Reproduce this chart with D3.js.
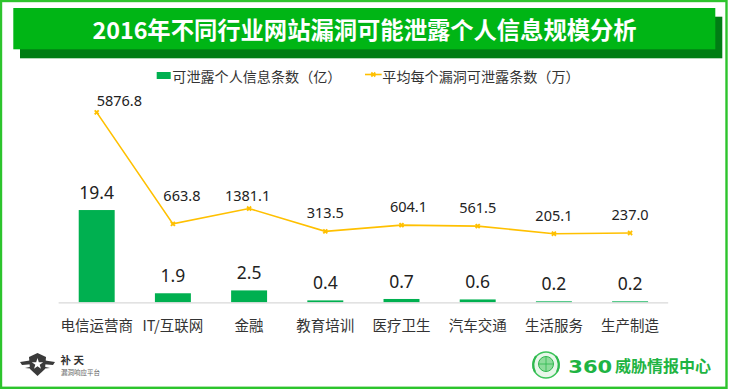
<!DOCTYPE html>
<html>
<head>
<meta charset="utf-8">
<script src="https://cdn.jsdelivr.net/npm/d3@7/dist/d3.min.js"></script>
<style>
  html, body { margin: 0; padding: 0; background: #fff; }
  svg { display: block; }
  text { font-family: "Noto Sans", "Noto Sans CJK SC", sans-serif; }
</style>
</head>
<body>
<svg id="chart" width="729" height="392"></svg>
<script>
// ---- data ----
const categories = ["电信运营商", "IT/互联网", "金融", "教育培训", "医疗卫生", "汽车交通", "生活服务", "生产制造"];
const recordsBillion = [19.4, 1.9, 2.5, 0.4, 0.7, 0.6, 0.2, 0.2];
const avgPerVulnTenThousand = [5876.8, 663.8, 1381.1, 313.5, 604.1, 561.5, 205.1, 237.0];
const seriesNames = ["可泄露个人信息条数（亿）", "平均每个漏洞可泄露条数（万）"];
const titleText = "2016年不同行业网站漏洞可能泄露个人信息规模分析";
// label placement nudges for the line labels (dx, dy from point), as hand-placed in the original
const lineLabelNudge = [[0, -6.5, "start"], [9, -23, "middle"], [-1.5, -7.7, "middle"], [0, -13, "middle"],
                        [7, -13.4, "middle"], [0, -13, "middle"], [0, -13, "middle"], [0, -13, "middle"]];

const svg = d3.select("#chart");

// outer frame
svg.append("rect").attr("x", 1).attr("y", 1).attr("width", 725.5).attr("height", 386.8)
  .attr("fill", "#fff").attr("stroke", "#2dc42d").attr("stroke-width", 2.4);

// title banner with shadow
svg.append("rect").attr("x", 20).attr("y", 16.7).attr("width", 702.3).attr("height", 41.6).attr("fill", "#007d14");
svg.append("rect").attr("x", 13.3).attr("y", 8).attr("width", 702).attr("height", 41.3).attr("fill", "#00b515");
svg.append("text").attr("x", 364.5).attr("y", 29).attr("text-anchor", "middle")
  .attr("dominant-baseline", "central")
  .style("font-family", '"Noto Sans CJK SC", sans-serif')
  .style("font-weight", "bold").style("font-size", "23.3px").attr("fill", "#fff")
  .text(titleText);

// scales
const plotLeft = 58.6, plotRight = 668.2, plotTop = 88.3, plotBottom = 302.3;
const x = d3.scaleBand().domain(categories).range([plotLeft, plotRight]).paddingInner(0.528).paddingOuter(0.264);
const yBar = d3.scaleLinear().domain([0, 45]).range([plotBottom, plotTop]);
const yLine = d3.scaleLinear().domain([-3000, 7000]).range([plotBottom, plotTop]);
const cx = c => x(c) + x.bandwidth() / 2;

const barColor = "#00b050", lineColor = "#ffc000", textColor = "#333";

// bars
svg.append("g").selectAll("rect").data(categories).join("rect")
  .attr("x", c => x(c))
  .attr("y", (c, i) => yBar(recordsBillion[i]))
  .attr("width", x.bandwidth())
  .attr("height", (c, i) => plotBottom - yBar(recordsBillion[i]))
  .attr("fill", barColor);

// x axis (baseline + category labels)
const xAxis = d3.axisBottom(x).tickSize(0).tickPadding(0).tickSizeOuter(0);
const gx = svg.append("g").attr("transform", `translate(0,${plotBottom})`).call(xAxis);
gx.select(".domain").attr("stroke", "#d9d9d9").attr("stroke-width", 1.3)
  .attr("d", `M${plotLeft},0.5H${plotRight}`);
gx.selectAll(".tick text")
  .attr("y", 29).attr("dy", 0)
  .style("font-family", '"Noto Sans CJK SC", sans-serif')
  .style("font-size", "14.5px").attr("fill", textColor);

// bar labels
svg.append("g").selectAll("text").data(categories).join("text")
  .attr("x", c => cx(c))
  .attr("y", (c, i) => yBar(recordsBillion[i]) - 11)
  .attr("text-anchor", "middle")
  .style("font-size", "17.5px").attr("fill", "#222")
  .text((c, i) => recordsBillion[i].toFixed(1));

// line
const line = d3.line().x((d, i) => cx(categories[i])).y(d => yLine(d));
svg.append("path").datum(avgPerVulnTenThousand).attr("d", line)
  .attr("fill", "none").attr("stroke", lineColor).attr("stroke-width", 1.6);

const marker = d3.symbol().type(d3.symbolCross).size(18);
svg.append("g").selectAll("path").data(avgPerVulnTenThousand).join("path")
  .attr("transform", (d, i) => `translate(${cx(categories[i])},${yLine(d)}) rotate(45)`)
  .attr("d", marker).attr("fill", lineColor);

// line labels
svg.append("g").selectAll("text").data(avgPerVulnTenThousand).join("text")
  .attr("x", (d, i) => cx(categories[i]) + lineLabelNudge[i][0])
  .attr("y", (d, i) => yLine(d) + lineLabelNudge[i][1])
  .attr("text-anchor", (d, i) => lineLabelNudge[i][2])
  .style("font-size", "14.5px").attr("fill", "#222")
  .text(d => d.toFixed(1));

// legend
const lg = svg.append("g");
lg.append("rect").attr("x", 156.7).attr("y", 72).attr("width", 14).attr("height", 7).attr("fill", barColor);
lg.append("text").attr("x", 172.3).attr("y", 75.5).attr("dominant-baseline", "central")
  .style("font-family", '"Noto Sans CJK SC", sans-serif').style("font-size", "14.1px").attr("fill", textColor)
  .text(seriesNames[0]);
lg.append("line").attr("x1", 365).attr("x2", 381.7).attr("y1", 74.5).attr("y2", 74.5)
  .attr("stroke", lineColor).attr("stroke-width", 1.6);
lg.append("path").attr("transform", "translate(373.3,74.5) rotate(45)").attr("d", marker).attr("fill", lineColor);
lg.append("text").attr("x", 382.3).attr("y", 75.5).attr("dominant-baseline", "central")
  .style("font-family", '"Noto Sans CJK SC", sans-serif').style("font-size", "14.1px").attr("fill", textColor)
  .text(seriesNames[1]);

// bottom-left logo (补天)
const bl = svg.append("g").attr("fill", "#3a3a3a");
bl.append("path").attr("d", "M20,362 L33,360 L34,364 L22,365 Z M25,368 L34,366 L35,369 Z");
bl.append("path").attr("d", "M55,362 L42,360 L41,364 L53,365 Z M50,368 L41,366 L40,369 Z");
bl.append("path").attr("d", "M37.5,353 L46,357 L45,369 L37.5,376 L30,369 L29,357 Z");
bl.append("path").attr("fill", "#fff")
  .attr("d", d3.symbol().type(d3.symbolStar).size(40)()).attr("transform", "translate(37.5,364)");
bl.append("text").attr("x", 60.5).attr("y", 364).style("font-family", '"Noto Sans CJK SC", sans-serif')
  .style("font-size", "10.5px").style("font-weight", "bold").attr("fill", "#333").text("补 天");
bl.append("text").attr("x", 61).attr("y", 374.5).style("font-family", '"Noto Sans CJK SC", sans-serif')
  .style("font-size", "6.5px").attr("fill", "#666").text("漏洞响应平台");

// bottom-right logo (360威胁情报中心)
const br = svg.append("g");
br.append("circle").attr("cx", 546).attr("cy", 365).attr("r", 13).attr("fill", "#e8f7ea").attr("stroke", "#3cc35a").attr("stroke-width", 1.5);
br.append("circle").attr("cx", 546).attr("cy", 364).attr("r", 7.5).attr("fill", "#8fdc9c").attr("stroke", "#2fb84e").attr("stroke-width", 1);
br.append("path").attr("d", "M538.5,364H553.5M546,356.5V371.5").attr("stroke", "#2fb84e").attr("stroke-width", 0.8);
br.append("path").attr("d", "M535,372 Q531,364 536,356 M557,372 Q561,364 556,356").attr("fill", "none")
  .attr("stroke", "#2fb84e").attr("stroke-width", 2.2);
br.append("text").attr("x", 568.3).attr("y", 372.5).attr("textLength", 44).attr("lengthAdjust", "spacingAndGlyphs")
  .style("font-family", '"DejaVu Sans", sans-serif').style("font-weight", "bold").style("font-size", "17px")
  .attr("fill", "#1fb443").text("360");
br.append("text").attr("x", 615).attr("y", 372.3)
  .style("font-family", '"Noto Sans CJK SC", sans-serif').style("font-weight", "bold").style("font-size", "16px")
  .attr("fill", "#1fb443").text("威胁情报中心");
</script>
</body>
</html>
